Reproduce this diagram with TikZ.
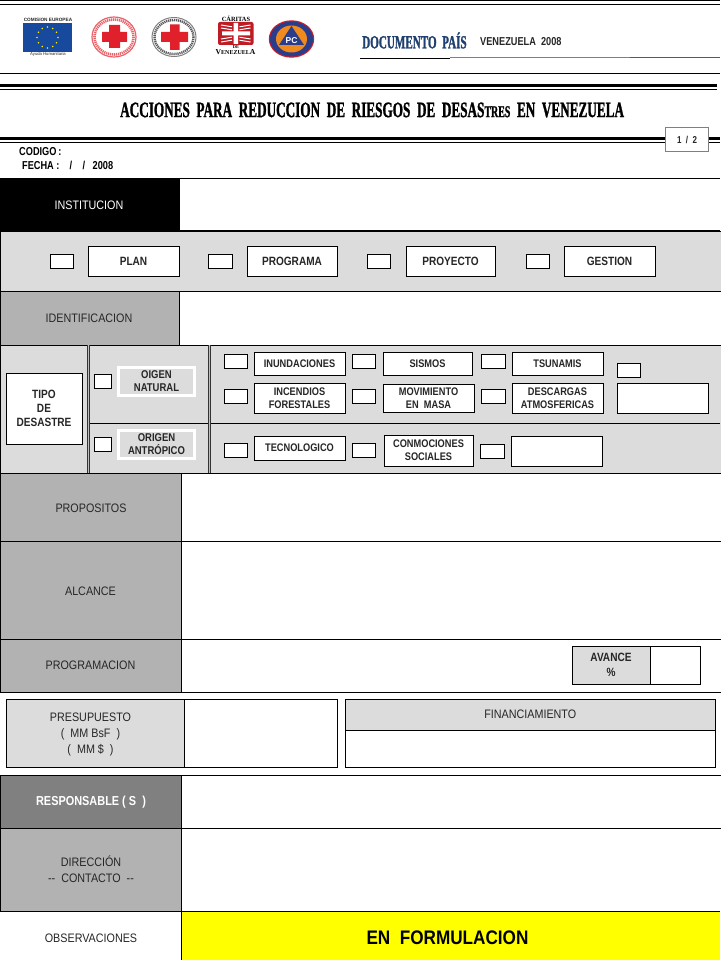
\documentclass[tikz,border=0pt]{standalone}
\usepackage{fontspec}
\setmainfont{Liberation Sans}
\newfontfamily\titlefont[FakeStretch=0.60,FakeBold=1.2]{Liberation Serif}
\newfontfamily\codefont[FakeStretch=0.80]{Liberation Sans}
\newfontfamily\narrowfont[FakeStretch=0.875]{Liberation Sans}
\newfontfamily\boldnarrow[FakeStretch=0.84]{Liberation Sans}
\newfontfamily\serifont{Liberation Serif}
\usetikzlibrary{shapes.geometric}
\definecolor{bandgray}{HTML}{DCDCDC}
\definecolor{headgray}{HTML}{B2B2B2}
\definecolor{respgray}{HTML}{808080}
\definecolor{txtgray}{HTML}{262626}
\definecolor{docblue}{HTML}{1F3F6F}
\definecolor{eublue}{HTML}{174A9C}
\definecolor{crossred}{HTML}{E0202A}
\definecolor{pcblue}{HTML}{2A3C8C}
\definecolor{pcorange}{HTML}{EE8A1E}
\definecolor{formyellow}{HTML}{FFFF00}
\definecolor{staryellow}{HTML}{FFE600}
\tikzset{
  band/.style={draw=black,line width=.9pt,fill=bandgray},
  headcell/.style={draw=black,line width=.9pt,fill=headgray},
  tickbox/.style={draw=black,line width=.8pt,fill=white,inner sep=0pt,minimum width=23.5pt,minimum height=14pt,xshift=-.25pt},
  labelbox/.style={draw=black,line width=.8pt,fill=white,inner sep=0pt,minimum width=91pt,align=center,xshift=-.5pt,
    font=\fontsize{11}{13}\selectfont\boldnarrow\bfseries,text=txtgray},
  planbox/.style={labelbox,minimum height=30.5pt,font=\fontsize{12}{14}\selectfont\boldnarrow\bfseries},
  headtext/.style={font=\fontsize{12.3}{16}\selectfont\narrowfont,text=txtgray,align=center,inner sep=0pt},
  origin/.style={draw=white,line width=3pt,fill=bandgray,inner sep=0pt,minimum width=76pt,minimum height=28pt,
    align=center,font=\fontsize{11.3}{13}\selectfont\boldnarrow\bfseries,text=txtgray}
}
\begin{document}
\begin{tikzpicture}[x=1pt,y=-1pt]
\useasboundingbox (0,0) rectangle (720,960);
% cabecera
\draw[line width=1.4pt] (0,.7)--(720,.7);
\draw[line width=.9pt] (0,4.5)--(720,4.5);
\draw[line width=.9pt] (0,73.5)--(720,73.5);
\draw[line width=3.2pt] (0,85.6)--(717,85.6);
\draw[line width=.9pt] (0,89.3)--(717,89.3);
\draw[line width=3.2pt] (0,138.6)--(720,138.6);
\draw[line width=.9pt] (0,142.3)--(720,142.3);
\draw[line width=.8pt] (360,58)--(450,58);
\draw[line width=1pt,gray] (450,58)--(630,58);
\draw[line width=.8pt,gray!70!black] (630,57.7)--(720,57.7);
% logos
\node[inner sep=0pt,font=\fontsize{4.7}{5}\selectfont\bfseries,text=txtgray] (ceTxt) at (48,19.5) {COMISION EUROPEA};
\node[draw=none,fill=eublue,inner sep=0pt,minimum width=49pt,minimum height=29pt] (euFlag) at (47.5,37.5) {};
\foreach \a in {0,30,...,330}
  \fill[staryellow] (47.5,37.5)++(\a:10.5) circle (.9);
\node[inner sep=0pt,font=\fontsize{4.2}{5}\selectfont,text=txtgray] (ahTxt) at (48,54.5) {Ayuda Humanitaria};
\draw[crossred!70,line width=1.2pt,fill=white] (114,37) ellipse (22 and 20);
\draw[crossred!70,line width=2.6pt,dash pattern=on 1.2pt off .8pt] (114,37) ellipse (19.5 and 17.5);
\fill[crossred] (109,25) rectangle (120,48) (102,32) rectangle (127,42);
\draw[gray,line width=1pt,fill=white] (174,37) ellipse (22 and 19.5);
\draw[black!65,line width=2.4pt,dash pattern=on 1.2pt off .8pt] (174,37) ellipse (19.5 and 17);
\fill[crossred] (170,24.5) rectangle (179.5,50) (161,32) rectangle (188,42);
\node[inner sep=0pt,font=\fontsize{6.4}{8}\selectfont\serifont\bfseries] (caritasTxt) at (236,18.5) {CÁRITAS};
\fill[crossred!85!black,rounded corners=2pt] (218,22) rectangle (253.5,45);
\fill[white] (233.5,23) rectangle (238,44) (222,31.5) rectangle (250,35.5);
\foreach \y in {25,28,39,42} {
  \draw[white,line width=1pt] (221,\y)--(232,{\y+(\y<33?3:-3)*.6});
  \draw[white,line width=1pt] (250.5,\y)--(239.5,{\y+(\y<33?3:-3)*.6});
}
\node[inner sep=0pt,font=\fontsize{4.5}{5}\selectfont\serifont\bfseries] (deTxt) at (236,47.5) {DE};
\node[inner sep=0pt,font=\fontsize{6}{8}\selectfont\serifont\bfseries] (venTxt) at (235.5,52.5) {{\fontsize{7.6}{8}\selectfont V}ENEZUEL{\fontsize{7.6}{8}\selectfont A}};
\fill[crossred!90!black] (291.5,39) ellipse (22.7 and 18.7);
\fill[pcblue] (291.5,39) ellipse (21.5 and 17.5);
\fill[pcorange] (291.5,39) ellipse (15.5 and 13.5);
\fill[pcblue] (291.5,26) -- (304,45) -- (279,45) -- cycle;
\node[inner sep=0pt,font=\fontsize{8.5}{9}\selectfont\bfseries,text=white] (pcTxt) at (291.5,40.5) {PC};
% titulos
\node[inner sep=0pt,anchor=west,font=\fontsize{18.5}{20}\selectfont\titlefont\bfseries,text=docblue] (docTxt) at (362,40.5) {DOCUMENTO~~PAÍS};
\node[inner sep=0pt,anchor=west,font=\fontsize{11.5}{12}\selectfont\codefont\bfseries,text=black!85] (venYear) at (480,42) {VENEZUELA~~2008};
\node[inner sep=0pt,anchor=west,font=\fontsize{22}{24}\selectfont\titlefont\bfseries] (mainTitle) at (120,110) {ACCIONES~~PARA~~REDUCCION~~DE~~RIESGOS~~DE~~DESAS{\fontsize{16.5}{18}\selectfont TRES}~~EN~~VENEZUELA};
\node[draw=gray,line width=.9pt,fill=white,inner sep=0pt,minimum width=43pt,minimum height=24pt,font=\fontsize{10}{11}\selectfont\codefont\bfseries,text=txtgray] (pageBox) at (687,139.5) {1~~/~~2};
\node[inner sep=0pt,anchor=west,font=\fontsize{11.5}{12}\selectfont\codefont\bfseries] (codigoTxt) at (19,151.5) {CODIGO\,:};
\node[inner sep=0pt,anchor=west,font=\fontsize{11.5}{12}\selectfont\codefont\bfseries] (fechaTxt) at (22,165.5) {FECHA :~~~~/~~~~/~~~2008};
% institucion y plan
\draw[line width=.9pt] (180,178.7)--(720,178.7);
\fill[black] (0,178) rectangle (179.5,231);
\node[headtext,text=white] (instTxt) at (89,205) {INSTITUCION};
\draw[band] (.4,231) rectangle (722,291.5);
\draw[line width=1.6pt] (0,231)--(720,231);
\node[tickbox] (tickPlan) at (62,261) {};
\node[planbox] (plan) at (134,261.5) {PLAN};
\node[tickbox] (tickProg) at (220.5,261) {};
\node[planbox,minimum width=90pt] (programa) at (292.5,261.5) {PROGRAMA};
\node[tickbox] (tickProy) at (379,261) {};
\node[planbox,minimum width=89pt] (proyecto) at (451,261.5) {PROYECTO};
\node[tickbox] (tickGest) at (538,261) {};
\node[planbox] (gestion) at (610,261.5) {GESTION};
% identificacion
\draw[headcell] (.4,291.5) rectangle (179.5,345);
\node[headtext] (identTxt) at (89,318) {IDENTIFICACION};
% tipo de desastre
\draw[band] (.4,345) rectangle (722,473);
\draw[line width=.9pt] (180,345)--(722,345);
\draw[line width=1.6pt] (89,423.3)--(720,423.3);
\foreach \x in {88,209} {
  \draw[line width=3pt,black!80] (\x,345)--(\x,473);
  \draw[gray!50,line width=.8pt] (\x,345)--(\x,473);
}
\node[labelbox,minimum width=76pt,minimum height=71pt,font=\fontsize{12}{14}\selectfont\boldnarrow\bfseries] (tipo) at (44.5,408.5) {TIPO\\DE\\DESASTRE};
\node[tickbox,minimum width=17pt] (tickNat) at (103.5,381) {};
\node[origin] (natural) at (156.5,381) {OIGEN\\NATURAL};
\node[tickbox,minimum width=17pt] (tickAnt) at (103.5,444) {};
\node[origin] (antropico) at (156.5,444) {ORIGEN\\ANTRÓPICO};
\node[tickbox] (tickInu) at (236,361.5) {};
\node[labelbox,minimum height=23pt] (inund) at (300,363.5) {INUNDACIONES};
\node[tickbox] (tickSis) at (364,361.5) {};
\node[labelbox,minimum width=89pt,minimum height=23pt] (sismos) at (428,363.5) {SISMOS};
\node[tickbox] (tickTsu) at (493.5,361.5) {};
\node[labelbox,minimum height=23pt] (tsunamis) at (558,363.5) {TSUNAMIS};
\node[tickbox] (tickOtr) at (629,370) {};
\node[tickbox] (tickInc) at (236,396.5) {};
\node[labelbox,minimum height=30pt] (incendios) at (300,398) {INCENDIOS\\FORESTALES};
\node[tickbox] (tickMov) at (364,396.5) {};
\node[labelbox,minimum height=28pt] (movimiento) at (429,398) {MOVIMIENTO\\EN~~MASA};
\node[tickbox] (tickDes) at (493.5,396.5) {};
\node[labelbox,minimum height=30pt] (descargas) at (558,398) {DESCARGAS\\ATMOSFERICAS};
\node[labelbox,minimum height=30pt] (otroNat) at (663,398) {};
\node[tickbox] (tickTec) at (236,450.5) {};
\node[labelbox,minimum height=24pt] (tecno) at (300,448) {TECNOLOGICO};
\node[tickbox] (tickCon) at (364,450.5) {};
\node[labelbox,minimum width=89pt,minimum height=31pt] (conmocion) at (429,450.5) {CONMOCIONES\\SOCIALES};
\node[tickbox] (tickAnO) at (492.5,451.5) {};
\node[labelbox,minimum height=30pt] (otroAnt) at (557,451) {};
% filas grises
\draw[headcell] (.4,473) rectangle (181.5,541);
\node[headtext] (propTxt) at (91,508) {PROPOSITOS};
\draw[line width=.9pt] (182,473)--(722,473);
\draw[headcell] (.4,541) rectangle (181.5,639);
\node[headtext] (alcTxt) at (90.5,591) {ALCANCE};
\draw[line width=.9pt] (182,541)--(722,541);
\draw[headcell] (.4,639) rectangle (181.5,692);
\node[headtext] (progTxt) at (90.5,665.5) {PROGRAMACION};
\draw[line width=.9pt] (182,639)--(722,639) (0,692)--(722,692);
\node[draw=black,line width=.9pt,fill=bandgray,inner sep=0pt,minimum width=78pt,minimum height=38pt,align=center,
  font=\fontsize{12}{14.5}\selectfont\boldnarrow\bfseries,text=txtgray] (avance) at (611,665) {AVANCE\\\%};
\node[draw=black,line width=.9pt,fill=white,inner sep=0pt,minimum width=50.5pt,minimum height=38pt] (avanceVal) at (675.25,665) {};
% presupuesto y financiamiento
\node[draw=black,line width=.9pt,fill=bandgray,inner sep=0pt,minimum width=178pt,minimum height=68pt] (presup) at (95,733) {};
\node[draw=black,line width=.9pt,fill=white,inner sep=0pt,minimum width=153.5pt,minimum height=68pt] (presupVal) at (260.75,733) {};
\node[headtext] (presupTxt) at (90.5,734.5) {PRESUPUESTO\\(~~MM BsF~~)\\(~~MM \$~~)};
\node[draw=black,line width=.9pt,fill=bandgray,inner sep=0pt,minimum width=370.5pt,minimum height=31pt,
  font=\fontsize{12.3}{14}\selectfont\narrowfont,text=txtgray] (financ) at (530.25,714.5) {FINANCIAMIENTO};
\node[draw=black,line width=.9pt,fill=white,inner sep=0pt,minimum width=370.5pt,minimum height=37pt] (financVal) at (530.25,748.5) {};
% responsable, direccion, observaciones
\draw[draw=black,line width=.9pt,fill=respgray] (.4,775) rectangle (181.5,828);
\node[headtext,text=white,font=\fontsize{13}{14}\selectfont\boldnarrow\bfseries] (respTxt) at (91,802) {RESPONSABLE (~S~~)};
\draw[line width=.9pt] (182,775)--(722,775) (182,828)--(722,828);
\draw[headcell] (.4,828) rectangle (181.5,911);
\node[headtext] (dirTxt) at (91,869) {DIRECCIÓN\\-{}- ~CONTACTO~ -{}-};
\fill[formyellow] (182,911) rectangle (720,960);
\draw[line width=.9pt] (0,911)--(720,911) (181.5,911)--(181.5,960);
\node[headtext] (obsTxt) at (91,938) {OBSERVACIONES};
\node[inner sep=0pt,font=\fontsize{19.6}{24}\selectfont\narrowfont\bfseries,text=black] (formTxt) at (447.5,938) {EN~~FORMULACION};
\end{tikzpicture}
\end{document}
